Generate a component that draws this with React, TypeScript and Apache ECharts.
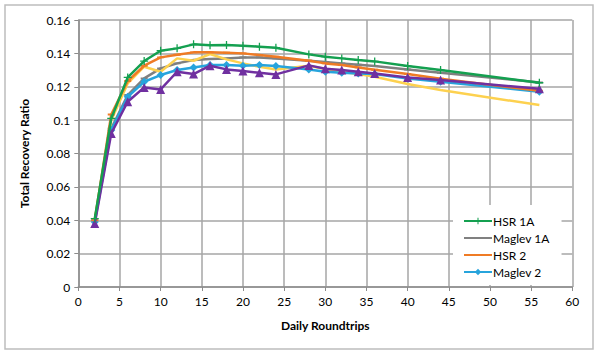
import React, { useEffect, useRef } from "react";
import * as echarts from "echarts";

const roundtrips = [2, 4, 6, 8, 10, 12, 14, 16, 18, 20, 22, 24, 28, 30, 32, 34, 36, 40, 44, 56];

const hsr1A = [0.041, 0.101, 0.1256, 0.1354, 0.1416, 0.143, 0.1454, 0.1448, 0.145, 0.1446, 0.144, 0.1434, 0.1394, 0.138, 0.137, 0.136, 0.1352, 0.1324, 0.13, 0.1224];
const maglev1A = [0.04, 0.095, 0.115, 0.125, 0.131, 0.134, 0.136, 0.1366, 0.137, 0.1376, 0.1376, 0.137, 0.1356, 0.1348, 0.134, 0.1332, 0.1324, 0.1304, 0.1284, 0.1226];
const hsr2 = [0.04, 0.1034, 0.1234, 0.1326, 0.1376, 0.1392, 0.1406, 0.1406, 0.1404, 0.14, 0.139, 0.138, 0.1356, 0.134, 0.133, 0.1316, 0.1302, 0.1276, 0.1248, 0.1176];
const maglev2 = [0.039, 0.094, 0.114, 0.123, 0.127, 0.13, 0.1316, 0.133, 0.133, 0.1326, 0.133, 0.1324, 0.1304, 0.129, 0.1284, 0.128, 0.1276, 0.125, 0.123, 0.117];
const seriesY = [0.04, 0.1, 0.122, 0.132, 0.129, 0.137, 0.1356, 0.1396, 0.1364, 0.134, 0.132, 0.1304, 0.1326, 0.1306, 0.129, 0.1276, 0.126, 0.1216, 0.118, 0.109];
const seriesP = [0.038, 0.092, 0.111, 0.1196, 0.1184, 0.129, 0.1276, 0.1326, 0.1304, 0.1294, 0.1284, 0.1274, 0.1328, 0.1308, 0.13, 0.129, 0.128, 0.1256, 0.124, 0.1188];

const legendNames = ["HSR 1A", "Maglev 1A", "HSR 2", "Maglev 2"];

const FONT = "Lato, 'Open Sans', sans-serif";

const plusPath = "path://M4.2,0h1.6v4.2h4.2v1.6h-4.2v4.2h-1.6v-4.2h-4.2v-1.6h4.2z";
const dashPath = "path://M0,0h0.01v10h-0.01z M0,3.6h10v2.8h-10z";

function pts(ys: number[]) {
  return roundtrips.map((x, i) => [x, ys[i]]);
}

export default function App() {
  const ref = useRef<HTMLDivElement>(null);
  useEffect(() => {
    if (!ref.current) return;
    const chart = echarts.init(ref.current, undefined, { renderer: "svg" });
    const mk = (name: string, ys: number[], color: string, symbol: string, size: number, z: number) => ({
      name,
      type: "line",
      data: pts(ys),
      symbol,
      symbolSize: size,
      showSymbol: symbol !== "none",
      lineStyle: { color, width: 2.5 },
      itemStyle: { color },
      z,
    });
    chart.setOption({
      animation: false,
      backgroundColor: "#ffffff",
      textStyle: { fontFamily: FONT },
      graphic: [
        {
          type: "rect",
          shape: { x: 5, y: 5, width: 588, height: 344 },
          style: { fill: "none", stroke: "#bdbdbd", lineWidth: 1.5 },
          silent: true,
        },
      ],
      grid: { left: 78.3, right: 26.7, top: 20, bottom: 68 },
      xAxis: {
        type: "value",
        min: 0,
        max: 60,
        interval: 5,
        name: "Daily Roundtrips",
        nameLocation: "middle",
        nameGap: 32,
        nameTextStyle: { fontFamily: FONT, fontWeight: "bold", fontSize: 12, color: "#000" },
        axisLine: { lineStyle: { color: "#8c8c8c", width: 1.5 } },
        axisTick: { show: true, length: 4, lineStyle: { color: "#8c8c8c" } },
        axisLabel: { color: "#000", fontSize: 12, fontFamily: FONT, margin: 8 },
        splitLine: { show: true, lineStyle: { color: "#a6a6a6", width: 1.5 } },
      },
      yAxis: {
        type: "value",
        min: 0,
        max: 0.16,
        interval: 0.02,
        name: "Total Recovery Ratio",
        nameLocation: "middle",
        nameGap: 48,
        nameTextStyle: { fontFamily: FONT, fontWeight: "bold", fontSize: 12, color: "#000" },
        axisLine: { show: true, lineStyle: { color: "#8c8c8c", width: 1.5 } },
        axisTick: { show: true, length: 4, lineStyle: { color: "#8c8c8c" } },
        axisLabel: { color: "#000", fontSize: 12, fontFamily: FONT, margin: 8 },
        splitLine: { show: true, lineStyle: { color: "#a6a6a6", width: 1.5 } },
      },
      legend: {
        data: legendNames,
        orient: "vertical",
        left: 453,
        top: 205,
        itemWidth: 28,
        itemHeight: 8,
        itemGap: 5,
        padding: [10, 12, 7, 10],
        backgroundColor: "#ffffff",
        textStyle: { fontFamily: FONT, fontSize: 12, color: "#000", padding: [0, 0, 0, -4] },
      },
      series: [
        mk("Maglev 1A", maglev1A, "#808080", dashPath, 7, 2),
        mk("Yellow", seriesY, "#fdd14f", "none", 0, 3),
        mk("Maglev 2", maglev2, "#27a4dc", "diamond", 8, 4),
        mk("HSR 2", hsr2, "#ef7b25", dashPath, 7, 5),
        mk("Purple", seriesP, "#7030a0", "triangle", 9, 6),
        mk("HSR 1A", hsr1A, "#14a050", plusPath, 8, 7),
      ],
    });
    return () => chart.dispose();
  }, []);
  return (
    <div
      ref={ref}
      style={{ position: "fixed", left: 0, top: 0, width: 599, height: 355 }}
    />
  );
}
